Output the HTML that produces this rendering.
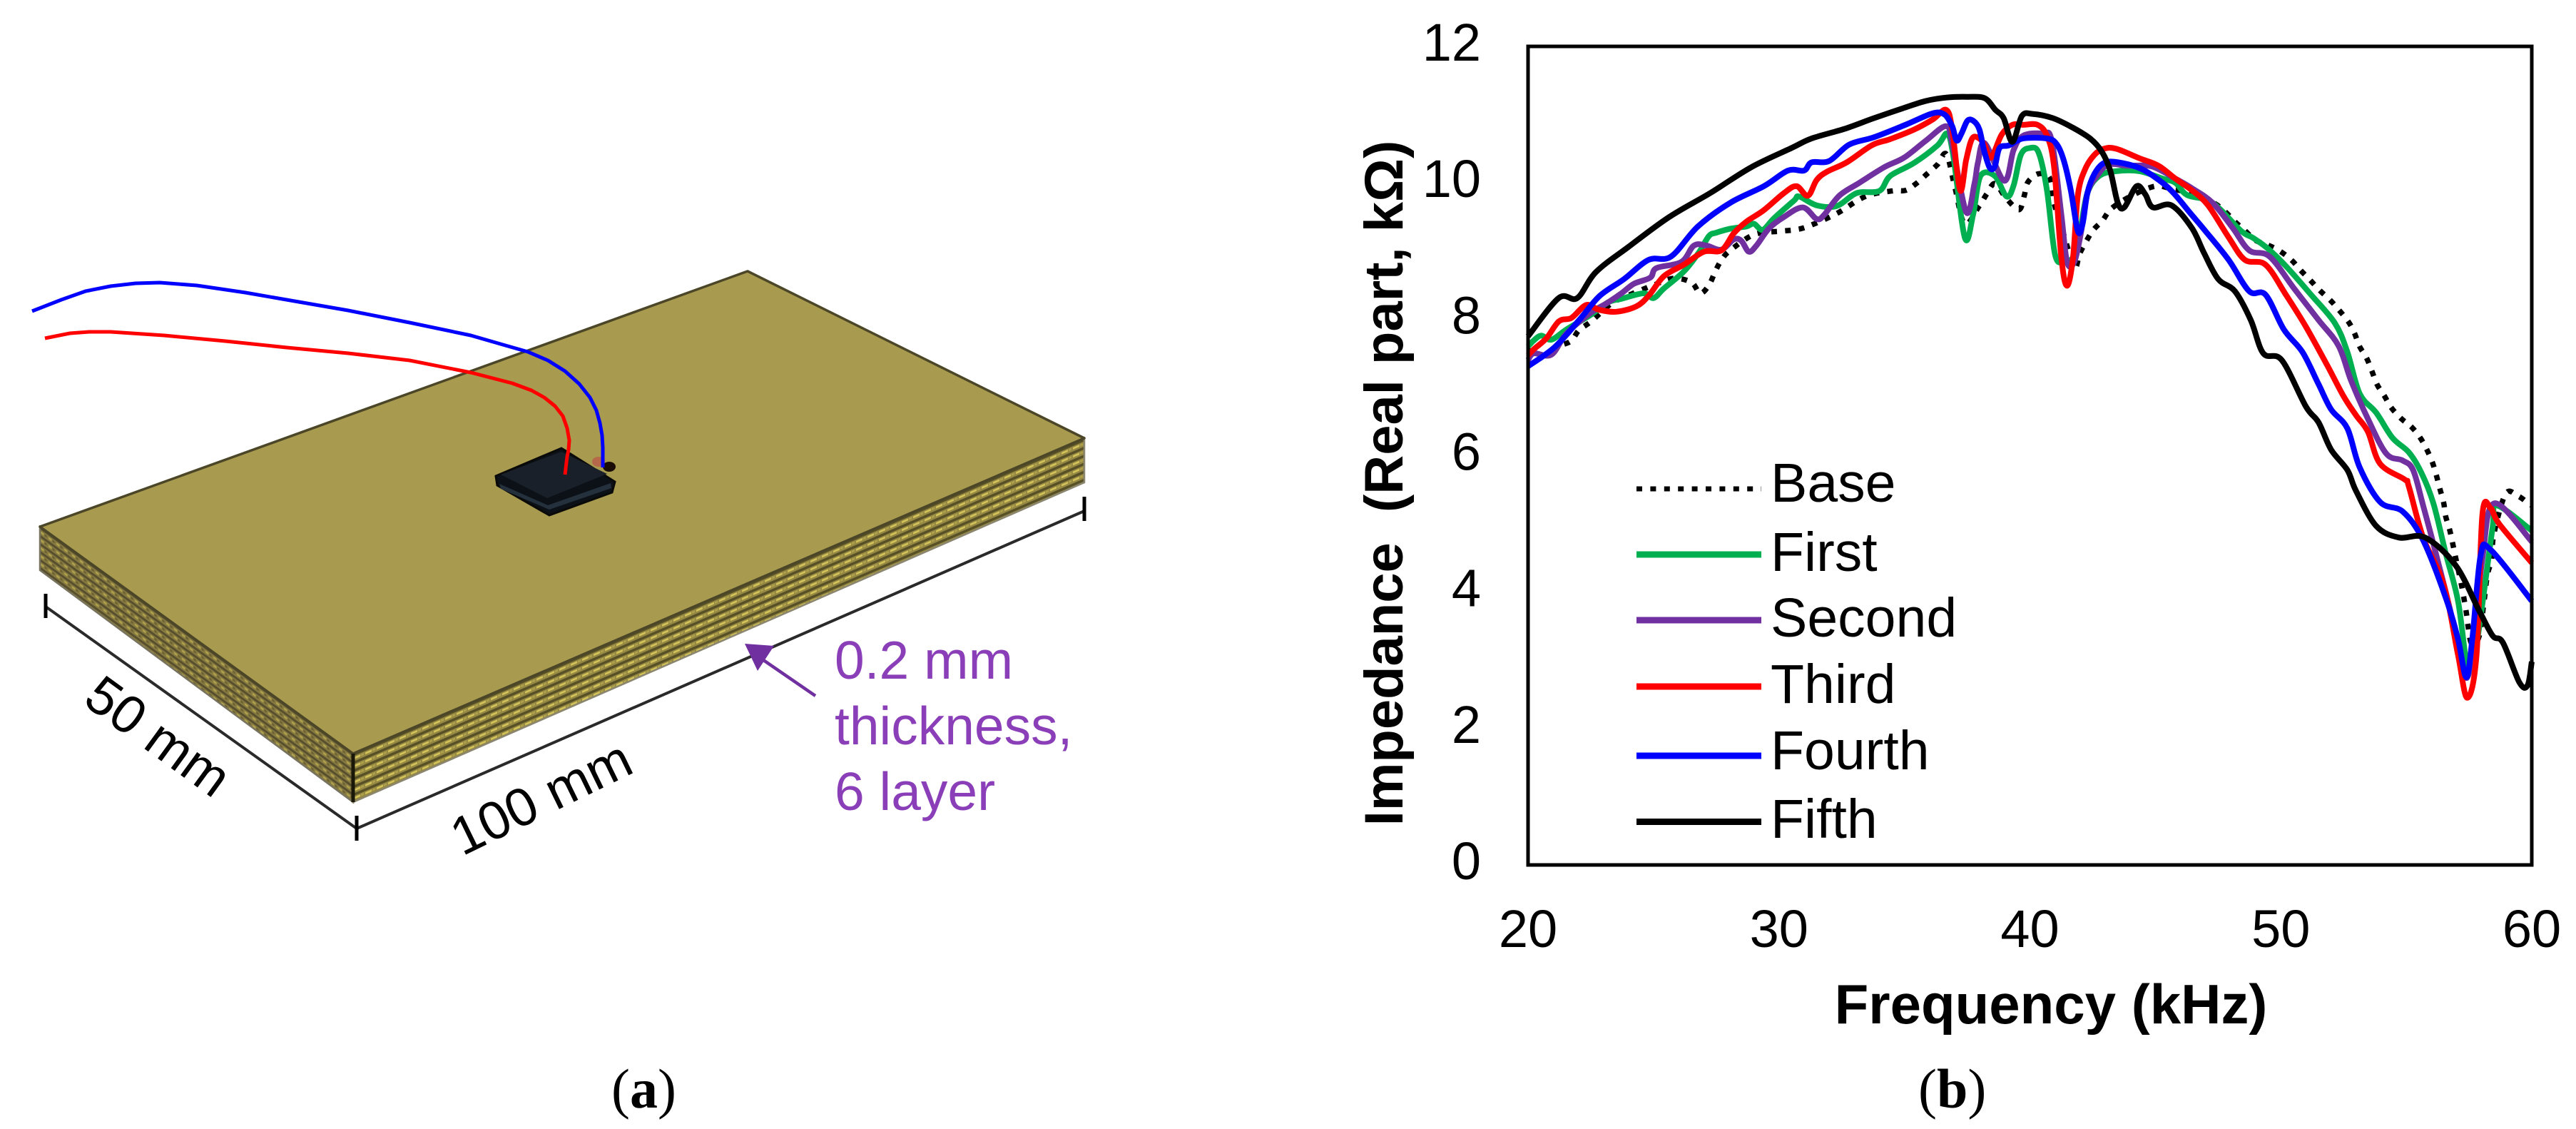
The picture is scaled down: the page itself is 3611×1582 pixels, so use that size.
<!DOCTYPE html>
<html>
<head>
<meta charset="utf-8">
<title>PCB model and impedance chart</title>
<style>
html,body{margin:0;padding:0;background:#fff;}
#stage{display:block;width:3611px;height:1582px;}
text{font-family:"Liberation Sans",Arial,sans-serif;fill:#000;white-space:pre;}
.tick{font-size:74px;}
.legend{font-size:77px;}
.axis-title{font-size:78px;font-weight:bold;}
.dim{font-size:75px;}
.note{font-size:75px;fill:#8a3fb8;}
.cap{font-family:"Liberation Serif",serif;font-size:78px;}
</style>
</head>
<body>
<svg id="stage" xmlns="http://www.w3.org/2000/svg" width="3611" height="1582" viewBox="0 0 3611 1582">
<defs>
<pattern id="hatch-right" patternUnits="userSpaceOnUse" width="16" height="11.2" patternTransform="translate(495 1056) skewY(-23.3)">
<rect width="16" height="11.2" fill="#958843"/>
<rect y="0" width="16" height="3.8" fill="#575026"/>
<rect x="1" y="5.6" width="9" height="2.8" fill="#d4c45a"/>
<rect x="11" y="5.6" width="4" height="2.8" fill="#b0a14b"/>
</pattern>
<pattern id="hatch-left" patternUnits="userSpaceOnUse" width="11" height="11.2" patternTransform="translate(56 738) skewY(35.9)">
<rect width="11" height="11.2" fill="#867a40"/>
<rect y="0" width="11" height="3.6" fill="#574e2e"/>
<rect x="1" y="5.6" width="4.5" height="3" fill="#b0a24c"/>
<rect x="6.5" y="5.6" width="3" height="3" fill="#6a6032"/>
</pattern>
</defs>
<rect width="3611" height="1582" fill="#fff"/>

<g id="board">
<polygon points="56,738 495,1056 495,1124 56,799" fill="url(#hatch-left)" stroke="#77735f" stroke-width="2.5"/>
<polygon points="495,1056 1520,614 1520,676 495,1124" fill="url(#hatch-right)" stroke="#8a8670" stroke-width="2.5"/>
<polygon points="1048,380 1520,614 495,1056 56,738" fill="#a89a4e" stroke="#4c4628" stroke-width="3.5" stroke-linejoin="round"/>
<line x1="495" y1="1056" x2="495" y2="1124" stroke="#1a1808" stroke-width="5"/>

<polygon points="695,667 787,628 862,675 858,690 770,722 697,680" fill="#0c1118" stroke="#0a0a08" stroke-width="3"/>
<polygon points="700,678 768,708 856,677 857,684 770,714 702,685" fill="#24313d"/>
<polygon points="702,665 787,633 851,664 767,698" fill="#1a2029"/>
<ellipse cx="854" cy="654" rx="9" ry="7" fill="#1a0d08"/>
<ellipse cx="839" cy="647" rx="9" ry="7" fill="#b5694a"/>

<polyline points="45,436 86,420 120,408 155,401 190,397 224,396 276,400 344,410 413,422 488,435 574,452 660,470 705,483 740,493 768,505 792,520 812,538 827,557 836,575 841,593 844,610 845,627 845,655" fill="none" stroke="#0000ff" stroke-width="5" stroke-linejoin="round"/>
<polyline points="63,474 98,467 125,465 155,465 230,470 316,478 402,487 488,495 574,505 660,522 718,537 745,547 763,557 778,569 789,583 795,600 798,617 797,630 795,640 792,665" fill="none" stroke="#ff0000" stroke-width="5" stroke-linejoin="round"/>

<line x1="64" y1="850" x2="500" y2="1161" stroke="#2a2a2a" stroke-width="4"/>
<line x1="500" y1="1161" x2="1520" y2="716" stroke="#2a2a2a" stroke-width="4"/>
<line x1="64" y1="832" x2="64" y2="866" stroke="#000" stroke-width="5"/>
<line x1="500" y1="1143" x2="500" y2="1178" stroke="#000" stroke-width="5"/>
<line x1="1520" y1="696" x2="1520" y2="730" stroke="#000" stroke-width="5"/>

<text class="dim" transform="translate(114,985) rotate(36)">50 mm</text>
<text class="dim" transform="translate(648,1200) rotate(-26)">100 mm</text>

<line x1="1143" y1="975" x2="1060" y2="918" stroke="#7030a0" stroke-width="4.5"/>
<polygon points="1044,902 1085,905 1062,940" fill="#7030a0"/>
<text class="note" x="1170" y="951">0.2 mm</text>
<text class="note" x="1170" y="1043">thickness,</text>
<text class="note" x="1170" y="1135">6 layer</text>
</g>

<text class="cap" x="857" y="1552">(<tspan font-weight="bold">a</tspan>)</text>
<text class="cap" x="2689" y="1552">(<tspan font-weight="bold">b</tspan>)</text>

<g id="chart"></g>
</svg>

<script>
const xTicks = [20, 30, 40, 50, 60];
const yTicks = [0, 2, 4, 6, 8, 10, 12];
const legendLabels = ['Base', 'First', 'Second', 'Third', 'Fourth', 'Fifth'];

const baseFreq = [20,20.5,21.2,21.71,22.03,22.52,23.32,24,25,25.8,26.51,26.86,27.21,27.46,27.71,28.06,29,30.05,30.6,31.15,32.3,33.44,34.5,35.05,35.47,35.9,36.32,36.67,37,37.4,37.98,38.27,38.6,39,39.4,39.62,39.78,39.92,40.32,40.77,40.96,41.3,41.77,41.98,42.24,42.53,42.9,43.24,44,45,45.75,46.5,47.35,47.8,48.17,48.57,48.98,49.47,49.96,50.42,50.81,51.18,51.56,51.97,52.33,52.7,52.93,53.14,53.42,53.63,53.84,54.12,54.41,54.81,55.21,55.56,55.83,56.05,56.2,56.34,56.49,56.57,56.73,56.85,56.97,57.2,57.38,57.46,57.6,57.9,58.1,58.23,58.4,58.49,58.96,59.44,59.87,60];
const baseImp = [7.55,7.45,7.6,7.68,7.84,7.97,8.23,8.35,8.5,8.6,8.54,8.38,8.5,8.7,8.87,9.01,9.24,9.29,9.31,9.36,9.55,9.8,9.88,9.89,9.99,10.13,10.27,10.42,9.95,9.4,9.66,9.83,9.99,9.8,9.64,9.62,9.82,10.01,10.13,10.08,9.71,9.3,8.77,8.96,9.14,9.31,9.45,9.62,9.8,9.95,9.9,9.85,9.7,9.57,9.43,9.3,9.16,9.09,9,8.87,8.71,8.57,8.42,8.28,8.13,7.96,7.8,7.6,7.43,7.24,7.04,6.88,6.7,6.54,6.42,6.26,6.08,5.89,5.71,5.51,5.31,5.11,4.91,4.71,4.5,4.1,3.73,3.5,3.25,3.35,3.87,4.25,4.48,4.85,5.44,5.41,5.3,5.27];

const firstFreq = [20,20.23,20.53,20.93,21.53,22.52,23.2,23.72,24.6,25,25.41,26.21,26.81,27.21,27.51,28.1,28.7,29,29.35,29.8,30.6,30.8,31.5,32.3,33.1,34,34.43,35.38,36.32,36.7,36.94,37.41,37.74,38.03,38.6,39.07,39.35,39.64,40,40.35,40.68,41,41.34,41.7,42,42.29,42.76,43.43,44.37,45.3,45.8,46.27,47.27,48.4,48.9,49.47,50.2,51.2,52.16,52.65,53.14,53.8,54.45,55.1,55.6,56.08,56.57,57.06,57.39,57.6,57.87,58.44,58.6,60];
const firstImp = [7.6,7.69,7.76,7.7,7.85,8.07,8.25,8.3,8.38,8.31,8.45,8.7,8.98,9.22,9.27,9.33,9.36,9.4,9.31,9.48,9.74,9.8,9.67,9.66,9.85,9.88,10.1,10.29,10.55,10.72,10.41,9.19,9.54,10.1,10.1,9.8,9.96,10.41,10.51,10.44,9.89,8.95,8.84,8.9,9.3,9.85,10.1,10.17,10.17,10.06,10,9.82,9.71,9.3,9.19,9.04,8.78,8.36,7.94,7.52,6.91,6.63,6.26,6.05,5.75,5.3,4.57,3.87,2.99,2.95,3.4,4.95,5.27,4.9];

const secondFreq = [20,20.23,20.93,21.53,22.52,23.12,23.72,24.22,24.87,25.12,26.11,26.61,27.11,27.7,28.2,28.5,28.8,29.1,29.6,30.2,30.95,31.5,31.8,32.4,33.2,34.2,34.99,35.86,36.66,36.9,37.46,37.79,37.93,38.2,38.98,39.35,39.73,40.5,40.87,41.25,41.48,41.77,42.05,42.29,42.67,43.14,43.9,44.85,45.8,46.46,47.27,48.08,48.74,49.55,50.53,51.5,52.3,52.8,53.47,54.2,54.85,55.27,55.67,56.24,56.81,57.22,57.54,58.03,58.5,60];
const secondImp = [7.4,7.5,7.48,7.79,8.1,8.23,8.38,8.52,8.61,8.75,8.84,9.08,9.08,9.02,9.17,9.15,8.99,9.08,9.33,9.5,9.64,9.47,9.53,9.81,10,10.23,10.37,10.62,10.83,10.58,9.57,9.99,10.3,10.58,10.03,10.48,10.69,10.72,10.62,9.54,8.84,8.84,9.3,9.85,10.1,10.27,10.25,10.24,10.06,9.92,9.71,9.34,9.01,8.92,8.45,7.99,7.61,7.1,6.54,6.03,5.93,5.79,5.27,4.48,3.64,2.89,2.89,4.48,5.3,4.74];

const thirdFreq = [20,20.23,20.73,21.23,21.73,22.32,22.82,23.52,24.32,24.82,25.41,26.21,27.01,27.71,28.2,28.7,29.4,30.2,30.7,31.15,31.5,31.9,32.7,33.7,34.43,35.38,36.13,36.66,36.9,37.22,37.46,37.7,37.98,38.2,38.45,38.88,39.3,39.73,40.3,40.68,40.96,41.25,41.48,41.72,41.91,42.2,42.57,42.95,43.43,44.37,45.13,45.8,46.46,47.1,47.92,48.57,49.39,50.2,51,51.84,52.5,53,53.47,53.96,54.94,55.1,55.67,56.5,57.06,57.43,57.8,58.03,58.36,58.7,60];
const thirdImp = [7.47,7.56,7.72,7.97,8.02,8.21,8.14,8.11,8.19,8.35,8.63,8.8,8.99,9.01,9.26,9.43,9.6,9.85,9.95,9.81,10.04,10.16,10.3,10.55,10.64,10.78,10.93,11.07,10.79,9.89,10.34,10.65,10.65,10.55,10.37,10.71,10.85,10.85,10.85,10.69,10.24,8.91,8.49,8.91,9.82,10.2,10.41,10.5,10.5,10.36,10.25,10.06,9.89,9.67,9.2,8.87,8.8,8.36,7.89,7.33,6.87,6.59,6.35,5.88,5.65,5.55,4.8,4.1,3.08,2.45,3.08,5.13,5.23,5,4.43];

const fourthFreq = [20,21.06,22.04,22.85,23.83,24.8,25.7,26.77,28.07,29.4,30.36,31,31.3,32,32.8,33.8,35.1,36.13,36.6,36.9,37.08,37.27,37.51,37.74,37.98,38.17,38.4,38.6,38.79,39.17,39.73,40.68,41.06,41.34,41.63,41.91,42.1,42.29,42.57,42.95,43.52,44.47,45.32,45.8,46.36,47,47.92,48.74,49.39,50.12,50.86,51.5,52,52.65,53.14,53.96,54.86,55.67,56.57,57.06,57.39,57.63,57.96,58.36,60];
const fourthImp = [7.31,7.59,7.99,8.34,8.59,8.87,8.92,9.36,9.71,9.95,10.18,10.18,10.3,10.32,10.56,10.67,10.86,11.02,11,10.83,10.62,10.72,10.91,10.91,10.79,10.48,10.22,10.24,10.51,10.55,10.65,10.65,10.57,10.34,9.89,9.29,9.4,9.85,10.13,10.29,10.3,10.2,9.99,9.82,9.57,9.29,8.87,8.41,8.36,7.85,7.52,7.05,6.68,6.4,5.83,5.32,5.18,4.76,3.92,3.31,2.75,3.31,4.53,4.62,3.87];

const fifthFreq = [20,21.22,21.96,22.7,24,25.63,27.26,28.9,30.5,31.3,32.6,33.8,35,35.85,36.67,37.48,38.2,38.62,38.95,39.3,39.68,40.1,40.9,41.7,42.4,42.86,43.2,43.5,43.76,44.25,44.6,44.9,45.64,46.45,46.94,47.5,48.17,48.8,49.3,50.04,51,51.5,52,52.65,53,53.8,54.7,55.75,56.97,57.9,58.44,58.85,59.5,59.83,60];
const fifthImp = [7.75,8.31,8.31,8.69,9.06,9.5,9.85,10.23,10.51,10.65,10.79,10.95,11.1,11.2,11.25,11.26,11.24,11.07,10.95,10.6,10.98,11.01,10.95,10.81,10.65,10.46,10.18,9.71,9.64,9.95,9.83,9.64,9.67,9.34,8.97,8.59,8.41,7.99,7.5,7.4,6.72,6.49,6.09,5.79,5.48,4.97,4.8,4.8,4.39,3.73,3.36,3.26,2.68,2.63,2.98];

const NS = 'http://www.w3.org/2000/svg';
const chart = document.getElementById('chart');
const plot = {left: 2142, right: 3549, top: 65, bottom: 1212};
const xMin = xTicks[0], xMax = xTicks[xTicks.length - 1];
const yMin = yTicks[0], yMax = yTicks[yTicks.length - 1];

function xScale(f) { return plot.left + (f - xMin) * (plot.right - plot.left) / (xMax - xMin); }
function yScale(v) { return plot.bottom - (v - yMin) * (plot.bottom - plot.top) / (yMax - yMin); }
function make(tag, attrs) {
  const el = document.createElementNS(NS, tag);
  for (const k in attrs) el.setAttribute(k, attrs[k]);
  return el;
}
function smoothPath(freqs, imps) {
  const p = freqs.map(function (f, j) { return [xScale(f), yScale(imps[j])]; });
  let d = 'M' + p[0][0].toFixed(1) + ',' + p[0][1].toFixed(1);
  for (let i = 0; i < p.length - 1; i++) {
    const a = p[Math.max(i - 1, 0)], b = p[i], c = p[i + 1], e = p[Math.min(i + 2, p.length - 1)];
    const c1x = b[0] + (c[0] - a[0]) / 6, c1y = b[1] + (c[1] - a[1]) / 6;
    const c2x = c[0] - (e[0] - b[0]) / 6, c2y = c[1] - (e[1] - b[1]) / 6;
    d += 'C' + c1x.toFixed(1) + ',' + c1y.toFixed(1) + ' ' + c2x.toFixed(1) + ',' + c2y.toFixed(1) + ' ' + c[0].toFixed(1) + ',' + c[1].toFixed(1);
  }
  return d;
}

const seriesFreqs = [baseFreq, firstFreq, secondFreq, thirdFreq, fourthFreq, fifthFreq];
const seriesImps = [baseImp, firstImp, secondImp, thirdImp, fourthImp, fifthImp];
const seriesColors = ['#000000', '#00b050', '#7030a0', '#ff0000', '#0000ff', '#000000'];

seriesFreqs.forEach(function (freqs, i) {
  const line = make('path', {d: smoothPath(freqs, seriesImps[i]), fill: 'none', stroke: seriesColors[i], 'stroke-width': i === 0 ? 7.5 : 8, 'stroke-linejoin': 'round'});
  if (i === 0) line.setAttribute('stroke-dasharray', '8 11.4');
  
  
  chart.appendChild(line);
});

const frame = make('rect', {x: plot.left, y: plot.top, width: plot.right - plot.left, height: plot.bottom - plot.top, fill: 'none', stroke: '#000', 'stroke-width': 5});


chart.appendChild(frame);

xTicks.forEach(function (t) {
  const label = make('text', {x: xScale(t), y: 1327, 'text-anchor': 'middle', class: 'tick'});
  label.textContent = String(t);
  
  
  chart.appendChild(label);
});

yTicks.forEach(function (t) {
  const label = make('text', {x: 2076, y: yScale(t) + 20, 'text-anchor': 'end', class: 'tick'});
  label.textContent = String(t);
  
  
  chart.appendChild(label);
});

const legendLineY = [685, 777, 869, 962, 1059, 1151.5];
const legendTextY = [703, 800, 892, 985, 1078, 1174];
legendLabels.forEach(function (name, i) {
  const swatch = make('line', {x1: 2294, x2: 2469, y1: legendLineY[i], y2: legendLineY[i], stroke: seriesColors[i], 'stroke-width': i === 0 ? 7 : 9});
  if (i === 0) swatch.setAttribute('stroke-dasharray', '8 11.4');
  
  
  chart.appendChild(swatch);
  const label = make('text', {x: 2482, y: legendTextY[i], class: 'legend'});
  label.textContent = name;
  
  
  chart.appendChild(label);
});

const xTitle = make('text', {x: 2875, y: 1434, 'text-anchor': 'middle', class: 'axis-title'});
xTitle.textContent = 'Frequency (kHz)';


chart.appendChild(xTitle);

const yTitle = make('text', {transform: 'translate(1966,677) rotate(-90)', 'text-anchor': 'middle', class: 'axis-title', style: 'font-size:76px'});
yTitle.textContent = 'Impedance  (Real part, k\u03A9)';


chart.appendChild(yTitle);
</script>
</body>
</html>
